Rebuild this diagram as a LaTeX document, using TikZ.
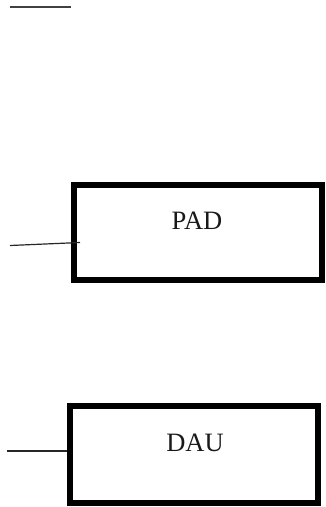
\documentclass[tikz,border=0pt]{standalone}
\usepackage{fontspec}
\setmainfont{Liberation Serif}
\begin{document}
\begin{tikzpicture}[x=1pt,y=-1pt,
  blockbox/.style={draw=black,line width=6pt,fill=white,inner sep=0pt,minimum width=248pt},
  wire/.style={draw=black!85,line width=1.2pt},
  lbl/.style={font=\fontsize{26.5}{30}\selectfont,text=black!90,inner sep=0pt}]
\useasboundingbox (0,0) rectangle (326,507);
% boxes
\node[blockbox,minimum height=95pt] (padbox) at (198,232.5) {};
\node[blockbox,minimum height=97pt] (daubox) at (194,454.5) {};
\node[lbl] (pad) at (197,221) {PAD};
\node[lbl] (dau) at (195,443) {DAU};
% top short line
\coordinate (t1) at (10,6.5);
\coordinate (t2) at (71,6.5);
\draw[draw=black!75,line width=2pt] (t1) -- (t2);
% connectors
\coordinate (p1) at (10,245.5);
\coordinate (p2) at (80,242.5);
\draw[wire] (p1) -- (p2);
\coordinate (d1) at (7,451);
\draw[wire] (d1) -- (d1 -| daubox.west);
\end{tikzpicture}
\end{document}
